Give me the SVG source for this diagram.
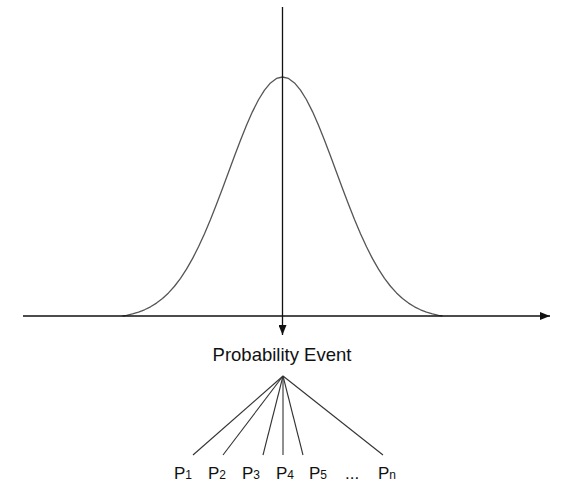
<svg xmlns="http://www.w3.org/2000/svg" width="563" height="485" viewBox="0 0 563 485">
<style>
.ax{stroke:#111;stroke-width:1.3;fill:none}
.curve{stroke:#555;stroke-width:1.3;fill:none;stroke-linejoin:round}
.fan{stroke:#333;stroke-width:1.1;fill:none}
.lbl{font-family:"Liberation Sans",Arial,sans-serif;fill:#111}
.p{font-size:17px}
.s{font-size:12px}
</style>
<defs>
<marker id="ah" viewBox="0 0 10 8" refX="10" refY="4" markerWidth="10" markerHeight="8" markerUnits="userSpaceOnUse" orient="auto">
<path d="M0,0 L10,4 L0,8 Z" fill="#111"/>
</marker>
</defs>
<rect width="563" height="485" fill="#fff"/>
<g id="curve">
<path class="curve" d="M122.5,316 L126.5,315.27 L132.5,313.89 L138.5,312.09 L144.5,309.77 L150.5,306.81 L156.5,303.1 L162.5,298.52 L168.5,292.94 L174.5,286.25 L180.5,278.35 L186.5,269.16 L192.5,258.66 L198.5,246.83 L204.5,233.75 L210.5,219.51 L216.5,204.33 L222.5,188.47 L228.5,172.22 L234.5,155.99 L240.5,140.17 L246.5,125.22 L252.5,111.61 L258.5,99.76 L264.5,90.08 L270.5,82.91 L276.5,78.49 L282.5,77 L288.5,78.49 L294.5,82.91 L300.5,90.08 L306.5,99.76 L312.5,111.61 L318.5,125.22 L324.5,140.17 L330.5,155.99 L336.5,172.22 L342.5,188.47 L348.5,204.33 L354.5,219.51 L360.5,233.75 L366.5,246.83 L372.5,258.66 L378.5,269.16 L384.5,278.35 L390.5,286.25 L396.5,292.94 L402.5,298.52 L408.5,303.1 L414.5,306.81 L420.5,309.77 L426.5,312.09 L432.5,313.89 L438.5,315.27 L442.5,316"/>
</g>
<g id="axes">
<line class="ax" x1="23" y1="316" x2="550" y2="316" marker-end="url(#ah)"/>
<line class="ax" x1="282.5" y1="7" x2="282.5" y2="335" marker-end="url(#ah)"/>
</g>
<g id="event">
<text class="lbl" x="282" y="361" font-size="18.5" text-anchor="middle">Probability Event</text>
</g>
<g id="connectors">
<line class="fan" x1="283" y1="376" x2="193" y2="455"/>
<line class="fan" x1="283" y1="376" x2="223" y2="455"/>
<line class="fan" x1="283" y1="376" x2="263" y2="455"/>
<line class="fan" x1="283" y1="376" x2="283" y2="455"/>
<line class="fan" x1="283" y1="376" x2="303" y2="455"/>
<line class="fan" x1="283" y1="376" x2="383" y2="455"/>
</g>
<g id="p1"><text class="lbl p" x="174" y="479">P<tspan class="s">1</tspan></text></g>
<g id="p2"><text class="lbl p" x="208" y="479">P<tspan class="s">2</tspan></text></g>
<g id="p3"><text class="lbl p" x="242" y="479">P<tspan class="s">3</tspan></text></g>
<g id="p4"><text class="lbl p" x="276" y="479">P<tspan class="s">4</tspan></text></g>
<g id="p5"><text class="lbl p" x="309" y="479">P<tspan class="s">5</tspan></text></g>
<g id="dots"><text class="lbl p" x="345" y="479">...</text></g>
<g id="pn"><text class="lbl p" x="378" y="479">P<tspan class="s">n</tspan></text></g>
</svg>
